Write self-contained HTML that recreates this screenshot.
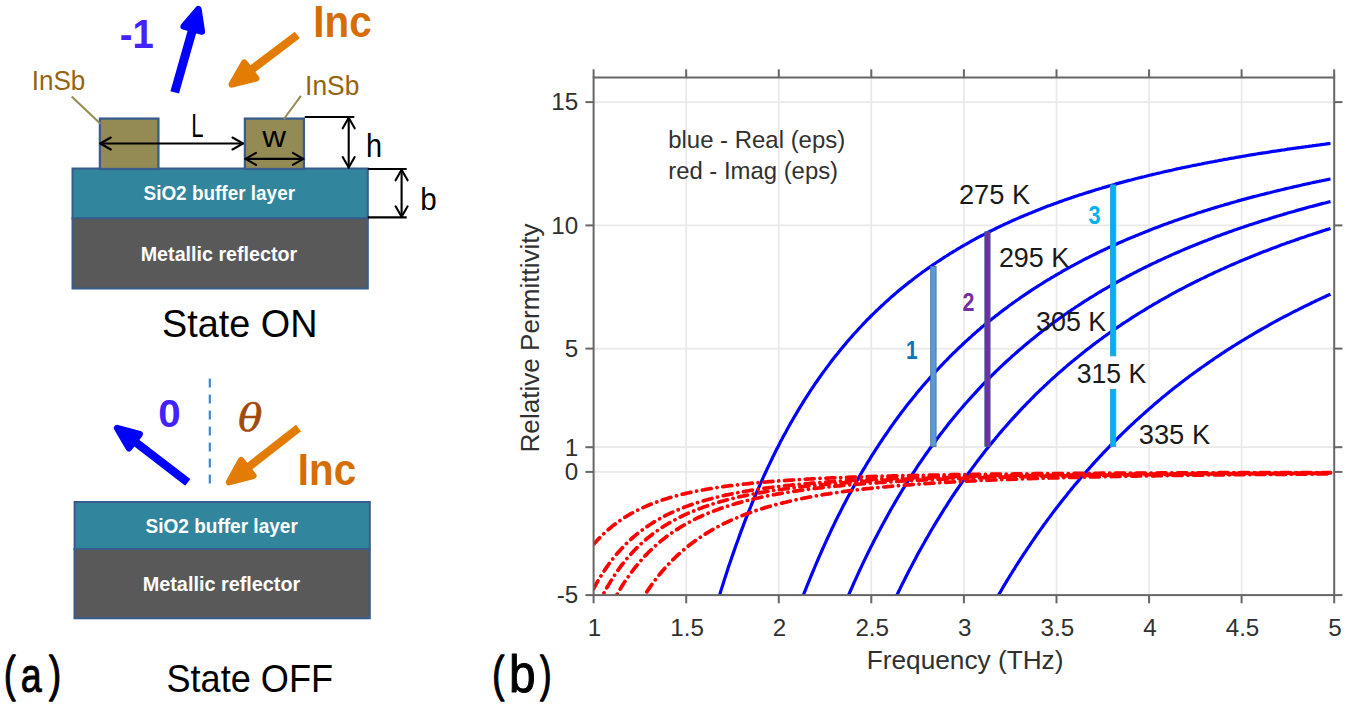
<!DOCTYPE html>
<html lang="en"><head><meta charset="utf-8"><title>Figure</title>
<style>html,body{margin:0;padding:0;background:#fff}svg{display:block}</style></head>
<body>
<svg width="1350" height="708" viewBox="0 0 1350 708">
<rect width="100%" height="100%" fill="#fff"/>
<rect x="72.5" y="168.5" width="295.3" height="50" fill="#31859C" stroke="#385D8A" stroke-width="2"/>
<rect x="72.5" y="218.3" width="295.3" height="70.2" fill="#595959" stroke="#385D8A" stroke-width="2"/>
<rect x="99.9" y="118.6" width="58.5" height="50.4" fill="#948A54" stroke="#385D8A" stroke-width="2.3"/>
<rect x="244.9" y="118.6" width="59" height="50.4" fill="#948A54" stroke="#385D8A" stroke-width="2.3"/>
<rect x="74.6" y="502.0" width="295.2" height="47.2" fill="#31859C" stroke="#385D8A" stroke-width="2"/>
<rect x="74.5" y="549" width="295.3" height="69.3" fill="#595959" stroke="#385D8A" stroke-width="2"/>
<line x1="71.7" y1="96.6" x2="100.4" y2="123.8" stroke="#948A54" stroke-width="2"/>
<line x1="300.9" y1="95.9" x2="283.9" y2="119" stroke="#948A54" stroke-width="2"/>
<g fill="none" stroke="#000" stroke-width="2.1" stroke-linecap="round" stroke-linejoin="round"><line x1="100.3" y1="143.5" x2="243.0" y2="143.5"/><polyline points="110.8,149.5 100.3,143.5 110.8,137.5"/><polyline points="232.5,149.5 243.0,143.5 232.5,137.5"/></g>
<g fill="none" stroke="#000" stroke-width="2.1" stroke-linecap="round" stroke-linejoin="round"><line x1="245.5" y1="158.9" x2="303.3" y2="158.9"/><polyline points="256.0,164.9 245.5,158.9 256.0,152.9"/><polyline points="292.8,164.9 303.3,158.9 292.8,152.9"/></g>
<g fill="none" stroke="#000" stroke-width="2.1" stroke-linecap="round" stroke-linejoin="round"><line x1="348.7" y1="117.8" x2="348.7" y2="167.6"/><polyline points="342.7,128.3 348.7,117.8 354.7,128.3"/><polyline points="342.7,157.1 348.7,167.6 354.7,157.1"/></g>
<g fill="none" stroke="#000" stroke-width="2.1" stroke-linecap="round" stroke-linejoin="round"><line x1="401.6" y1="169.8" x2="401.6" y2="216.8"/><polyline points="395.6,180.3 401.6,169.8 407.6,180.3"/><polyline points="395.6,206.3 401.6,216.8 407.6,206.3"/></g>
<g stroke="#000" stroke-width="2.1"><line x1="304.8" y1="117" x2="354.3" y2="117"/><line x1="367.8" y1="169" x2="406.7" y2="169"/><line x1="367.8" y1="217.4" x2="406.7" y2="217.4"/></g>
<line x1="174.7" y1="92.4" x2="193.3" y2="27.0" stroke="#0000FF" stroke-width="8.9"/><polygon points="198.4,9.2 201.8,31.5 183.7,26.3" fill="#0000FF" stroke="#0000FF" stroke-width="6.6" stroke-linejoin="round"/>
<line x1="297.3" y1="35.0" x2="248.6" y2="71.8" stroke="#E37C04" stroke-width="8.4"/><polygon points="231.8,84.4 244.3,62.7 256.1,78.4" fill="#E37C04" stroke="#E37C04" stroke-width="6.6" stroke-linejoin="round"/>
<line x1="187.8" y1="482.4" x2="132.7" y2="440.0" stroke="#0000FF" stroke-width="8.3"/><polygon points="117.2,428.1 139.6,434.2 128.9,448.2" fill="#0000FF" stroke="#0000FF" stroke-width="6.6" stroke-linejoin="round"/>
<line x1="298.5" y1="428.1" x2="245.7" y2="469.2" stroke="#E37C04" stroke-width="8.3"/><polygon points="229.1,482.1 241.2,460.2 253.3,475.7" fill="#E37C04" stroke="#E37C04" stroke-width="6.6" stroke-linejoin="round"/>
<line x1="209.8" y1="378.4" x2="209.8" y2="484" stroke="#3F8AD3" stroke-width="2.2" stroke-dasharray="9.2 6.8"/>
<g stroke="#E9E9E9" stroke-width="1.7"><line x1="686.2" y1="77.5" x2="686.2" y2="595.1"/><line x1="778.8" y1="77.5" x2="778.8" y2="595.1"/><line x1="871.3" y1="77.5" x2="871.3" y2="595.1"/><line x1="963.9" y1="77.5" x2="963.9" y2="595.1"/><line x1="1056.5" y1="77.5" x2="1056.5" y2="595.1"/><line x1="1149.1" y1="77.5" x2="1149.1" y2="595.1"/><line x1="1241.6" y1="77.5" x2="1241.6" y2="595.1"/><line x1="593.6" y1="471.9" x2="1334.2" y2="471.9"/><line x1="593.6" y1="447.2" x2="1334.2" y2="447.2"/><line x1="593.6" y1="348.6" x2="1334.2" y2="348.6"/><line x1="593.6" y1="225.4" x2="1334.2" y2="225.4"/><line x1="593.6" y1="102.1" x2="1334.2" y2="102.1"/></g>
<clipPath id="cp"><rect x="593.6" y="77.5" width="740.6" height="518.6"/></clipPath>
<g clip-path="url(#cp)" fill="none">
<g stroke="#0000FF" stroke-width="3.2" stroke-linejoin="round"><path d="M715.5,608.7 L717.3,602.5 L719.2,596.4 L721.0,590.4 L722.9,584.4 L724.7,578.6 L726.6,572.9 L728.4,567.3 L730.3,561.8 L732.1,556.4 L734.0,551.1 L735.8,545.8 L737.7,540.7 L739.5,535.6 L741.3,530.6 L743.2,525.8 L745.0,520.9 L746.9,516.2 L748.7,511.5 L750.6,507.0 L752.4,502.4 L754.3,498.0 L756.1,493.6 L758.0,489.3 L759.8,485.1 L761.7,480.9 L763.5,476.8 L765.4,472.8 L767.2,468.8 L769.1,464.9 L770.9,461.1 L772.7,457.3 L774.6,453.5 L776.4,449.8 L778.3,446.2 L780.1,442.6 L782.0,439.1 L783.8,435.6 L785.7,432.2 L787.5,428.8 L789.4,425.5 L791.2,422.3 L793.1,419.0 L794.9,415.8 L796.8,412.7 L798.6,409.6 L800.4,406.6 L802.3,403.6 L804.1,400.6 L806.0,397.7 L807.8,394.8 L809.7,392.0 L811.5,389.2 L813.4,386.4 L815.2,383.7 L817.1,381.0 L818.9,378.3 L820.8,375.7 L822.6,373.1 L824.5,370.6 L826.3,368.1 L828.2,365.6 L830.0,363.1 L831.8,360.7 L833.7,358.3 L835.5,356.0 L837.4,353.7 L839.2,351.4 L841.1,349.1 L842.9,346.9 L844.8,344.7 L846.6,342.5 L848.5,340.3 L850.3,338.2 L852.2,336.1 L854.0,334.0 L855.9,332.0 L857.7,330.0 L859.5,328.0 L861.4,326.0 L863.2,324.0 L865.1,322.1 L866.9,320.2 L868.8,318.3 L870.6,316.5 L872.5,314.6 L874.3,312.8 L876.2,311.0 L878.0,309.3 L879.9,307.5 L881.7,305.8 L883.6,304.1 L885.4,302.4 L887.3,300.7 L889.1,299.1 L890.9,297.4 L892.8,295.8 L894.6,294.2 L896.5,292.6 L898.3,291.1 L900.2,289.5 L902.0,288.0 L903.9,286.5 L905.7,285.0 L907.6,283.6 L909.4,282.1 L911.3,280.7 L913.1,279.2 L915.0,277.8 L916.8,276.4 L918.6,275.0 L920.5,273.7 L922.3,272.3 L924.2,271.0 L926.0,269.7 L927.9,268.4 L929.7,267.1 L931.6,265.8 L933.4,264.5 L935.3,263.3 L937.1,262.0 L939.0,260.8 L940.8,259.6 L942.7,258.4 L944.5,257.2 L946.4,256.0 L948.2,254.8 L950.0,253.7 L951.9,252.6 L953.7,251.4 L955.6,250.3 L957.4,249.2 L959.3,248.1 L961.1,247.0 L963.0,245.9 L964.8,244.9 L966.7,243.8 L968.5,242.8 L970.4,241.7 L972.2,240.7 L974.1,239.7 L975.9,238.7 L977.7,237.7 L979.6,236.7 L981.4,235.8 L983.3,234.8 L985.1,233.8 L987.0,232.9 L988.8,232.0 L990.7,231.0 L992.5,230.1 L994.4,229.2 L996.2,228.3 L998.1,227.4 L999.9,226.5 L1001.8,225.6 L1003.6,224.8 L1005.4,223.9 L1007.3,223.1 L1009.1,222.2 L1011.0,221.4 L1012.8,220.5 L1014.7,219.7 L1016.5,218.9 L1018.4,218.1 L1020.2,217.3 L1022.1,216.5 L1023.9,215.7 L1025.8,214.9 L1027.6,214.2 L1029.5,213.4 L1031.3,212.7 L1033.2,211.9 L1035.0,211.2 L1036.8,210.4 L1038.7,209.7 L1040.5,209.0 L1042.4,208.2 L1044.2,207.5 L1046.1,206.8 L1047.9,206.1 L1049.8,205.4 L1051.6,204.7 L1053.5,204.1 L1055.3,203.4 L1057.2,202.7 L1059.0,202.0 L1060.9,201.4 L1062.7,200.7 L1064.5,200.1 L1066.4,199.4 L1068.2,198.8 L1070.1,198.2 L1071.9,197.5 L1073.8,196.9 L1075.6,196.3 L1077.5,195.7 L1079.3,195.1 L1081.2,194.5 L1083.0,193.9 L1084.9,193.3 L1086.7,192.7 L1088.6,192.1 L1090.4,191.6 L1092.3,191.0 L1094.1,190.4 L1095.9,189.8 L1097.8,189.3 L1099.6,188.7 L1101.5,188.2 L1103.3,187.6 L1105.2,187.1 L1107.0,186.6 L1108.9,186.0 L1110.7,185.5 L1112.6,185.0 L1114.4,184.5 L1116.3,183.9 L1118.1,183.4 L1120.0,182.9 L1121.8,182.4 L1123.6,181.9 L1125.5,181.4 L1127.3,180.9 L1129.2,180.4 L1131.0,180.0 L1132.9,179.5 L1134.7,179.0 L1136.6,178.5 L1138.4,178.0 L1140.3,177.6 L1142.1,177.1 L1144.0,176.7 L1145.8,176.2 L1147.7,175.7 L1149.5,175.3 L1151.4,174.9 L1153.2,174.4 L1155.0,174.0 L1156.9,173.5 L1158.7,173.1 L1160.6,172.7 L1162.4,172.2 L1164.3,171.8 L1166.1,171.4 L1168.0,171.0 L1169.8,170.6 L1171.7,170.2 L1173.5,169.7 L1175.4,169.3 L1177.2,168.9 L1179.1,168.5 L1180.9,168.1 L1182.7,167.7 L1184.6,167.4 L1186.4,167.0 L1188.3,166.6 L1190.1,166.2 L1192.0,165.8 L1193.8,165.4 L1195.7,165.1 L1197.5,164.7 L1199.4,164.3 L1201.2,164.0 L1203.1,163.6 L1204.9,163.2 L1206.8,162.9 L1208.6,162.5 L1210.5,162.2 L1212.3,161.8 L1214.1,161.5 L1216.0,161.1 L1217.8,160.8 L1219.7,160.4 L1221.5,160.1 L1223.4,159.7 L1225.2,159.4 L1227.1,159.1 L1228.9,158.7 L1230.8,158.4 L1232.6,158.1 L1234.5,157.8 L1236.3,157.4 L1238.2,157.1 L1240.0,156.8 L1241.8,156.5 L1243.7,156.2 L1245.5,155.9 L1247.4,155.5 L1249.2,155.2 L1251.1,154.9 L1252.9,154.6 L1254.8,154.3 L1256.6,154.0 L1258.5,153.7 L1260.3,153.4 L1262.2,153.1 L1264.0,152.8 L1265.9,152.6 L1267.7,152.3 L1269.6,152.0 L1271.4,151.7 L1273.2,151.4 L1275.1,151.1 L1276.9,150.9 L1278.8,150.6 L1280.6,150.3 L1282.5,150.0 L1284.3,149.8 L1286.2,149.5 L1288.0,149.2 L1289.9,148.9 L1291.7,148.7 L1293.6,148.4 L1295.4,148.2 L1297.3,147.9 L1299.1,147.6 L1300.9,147.4 L1302.8,147.1 L1304.6,146.9 L1306.5,146.6 L1308.3,146.4 L1310.2,146.1 L1312.0,145.9 L1313.9,145.6 L1315.7,145.4 L1317.6,145.1 L1319.4,144.9 L1321.3,144.6 L1323.1,144.4 L1325.0,144.2 L1326.8,143.9 L1328.7,143.7 L1330.5,143.5"/><path d="M798.6,607.7 L800.4,602.8 L802.3,598.0 L804.1,593.2 L806.0,588.5 L807.8,583.9 L809.7,579.3 L811.5,574.8 L813.4,570.3 L815.2,566.0 L817.1,561.6 L818.9,557.3 L820.8,553.1 L822.6,549.0 L824.5,544.9 L826.3,540.8 L828.2,536.8 L830.0,532.9 L831.8,529.0 L833.7,525.1 L835.5,521.3 L837.4,517.6 L839.2,513.9 L841.1,510.3 L842.9,506.6 L844.8,503.1 L846.6,499.6 L848.5,496.1 L850.3,492.7 L852.2,489.3 L854.0,486.0 L855.9,482.7 L857.7,479.4 L859.5,476.2 L861.4,473.0 L863.2,469.9 L865.1,466.8 L866.9,463.7 L868.8,460.7 L870.6,457.7 L872.5,454.7 L874.3,451.8 L876.2,448.9 L878.0,446.1 L879.9,443.2 L881.7,440.5 L883.6,437.7 L885.4,435.0 L887.3,432.3 L889.1,429.6 L890.9,427.0 L892.8,424.4 L894.6,421.8 L896.5,419.3 L898.3,416.8 L900.2,414.3 L902.0,411.8 L903.9,409.4 L905.7,407.0 L907.6,404.6 L909.4,402.3 L911.3,400.0 L913.1,397.7 L915.0,395.4 L916.8,393.1 L918.6,390.9 L920.5,388.7 L922.3,386.5 L924.2,384.4 L926.0,382.3 L927.9,380.2 L929.7,378.1 L931.6,376.0 L933.4,374.0 L935.3,372.0 L937.1,370.0 L939.0,368.0 L940.8,366.0 L942.7,364.1 L944.5,362.2 L946.4,360.3 L948.2,358.4 L950.0,356.5 L951.9,354.7 L953.7,352.9 L955.6,351.1 L957.4,349.3 L959.3,347.5 L961.1,345.8 L963.0,344.0 L964.8,342.3 L966.7,340.6 L968.5,339.0 L970.4,337.3 L972.2,335.6 L974.1,334.0 L975.9,332.4 L977.7,330.8 L979.6,329.2 L981.4,327.6 L983.3,326.1 L985.1,324.6 L987.0,323.0 L988.8,321.5 L990.7,320.0 L992.5,318.5 L994.4,317.1 L996.2,315.6 L998.1,314.2 L999.9,312.8 L1001.8,311.3 L1003.6,309.9 L1005.4,308.6 L1007.3,307.2 L1009.1,305.8 L1011.0,304.5 L1012.8,303.1 L1014.7,301.8 L1016.5,300.5 L1018.4,299.2 L1020.2,297.9 L1022.1,296.6 L1023.9,295.4 L1025.8,294.1 L1027.6,292.9 L1029.5,291.6 L1031.3,290.4 L1033.2,289.2 L1035.0,288.0 L1036.8,286.8 L1038.7,285.6 L1040.5,284.5 L1042.4,283.3 L1044.2,282.2 L1046.1,281.0 L1047.9,279.9 L1049.8,278.8 L1051.6,277.7 L1053.5,276.6 L1055.3,275.5 L1057.2,274.4 L1059.0,273.3 L1060.9,272.3 L1062.7,271.2 L1064.5,270.2 L1066.4,269.1 L1068.2,268.1 L1070.1,267.1 L1071.9,266.1 L1073.8,265.1 L1075.6,264.1 L1077.5,263.1 L1079.3,262.1 L1081.2,261.2 L1083.0,260.2 L1084.9,259.2 L1086.7,258.3 L1088.6,257.4 L1090.4,256.4 L1092.3,255.5 L1094.1,254.6 L1095.9,253.7 L1097.8,252.8 L1099.6,251.9 L1101.5,251.0 L1103.3,250.1 L1105.2,249.2 L1107.0,248.4 L1108.9,247.5 L1110.7,246.7 L1112.6,245.8 L1114.4,245.0 L1116.3,244.2 L1118.1,243.3 L1120.0,242.5 L1121.8,241.7 L1123.6,240.9 L1125.5,240.1 L1127.3,239.3 L1129.2,238.5 L1131.0,237.7 L1132.9,237.0 L1134.7,236.2 L1136.6,235.4 L1138.4,234.7 L1140.3,233.9 L1142.1,233.2 L1144.0,232.4 L1145.8,231.7 L1147.7,231.0 L1149.5,230.2 L1151.4,229.5 L1153.2,228.8 L1155.0,228.1 L1156.9,227.4 L1158.7,226.7 L1160.6,226.0 L1162.4,225.3 L1164.3,224.6 L1166.1,224.0 L1168.0,223.3 L1169.8,222.6 L1171.7,221.9 L1173.5,221.3 L1175.4,220.6 L1177.2,220.0 L1179.1,219.3 L1180.9,218.7 L1182.7,218.1 L1184.6,217.4 L1186.4,216.8 L1188.3,216.2 L1190.1,215.6 L1192.0,215.0 L1193.8,214.4 L1195.7,213.7 L1197.5,213.1 L1199.4,212.5 L1201.2,212.0 L1203.1,211.4 L1204.9,210.8 L1206.8,210.2 L1208.6,209.6 L1210.5,209.1 L1212.3,208.5 L1214.1,207.9 L1216.0,207.4 L1217.8,206.8 L1219.7,206.3 L1221.5,205.7 L1223.4,205.2 L1225.2,204.6 L1227.1,204.1 L1228.9,203.6 L1230.8,203.0 L1232.6,202.5 L1234.5,202.0 L1236.3,201.5 L1238.2,200.9 L1240.0,200.4 L1241.8,199.9 L1243.7,199.4 L1245.5,198.9 L1247.4,198.4 L1249.2,197.9 L1251.1,197.4 L1252.9,196.9 L1254.8,196.4 L1256.6,196.0 L1258.5,195.5 L1260.3,195.0 L1262.2,194.5 L1264.0,194.1 L1265.9,193.6 L1267.7,193.1 L1269.6,192.7 L1271.4,192.2 L1273.2,191.8 L1275.1,191.3 L1276.9,190.9 L1278.8,190.4 L1280.6,190.0 L1282.5,189.5 L1284.3,189.1 L1286.2,188.6 L1288.0,188.2 L1289.9,187.8 L1291.7,187.4 L1293.6,186.9 L1295.4,186.5 L1297.3,186.1 L1299.1,185.7 L1300.9,185.3 L1302.8,184.8 L1304.6,184.4 L1306.5,184.0 L1308.3,183.6 L1310.2,183.2 L1312.0,182.8 L1313.9,182.4 L1315.7,182.0 L1317.6,181.6 L1319.4,181.2 L1321.3,180.9 L1323.1,180.5 L1325.0,180.1 L1326.8,179.7 L1328.7,179.3 L1330.5,179.0"/><path d="M842.9,608.4 L844.8,604.0 L846.6,599.6 L848.5,595.3 L850.3,591.1 L852.2,586.9 L854.0,582.7 L855.9,578.6 L857.7,574.6 L859.5,570.6 L861.4,566.6 L863.2,562.7 L865.1,558.9 L866.9,555.1 L868.8,551.3 L870.6,547.6 L872.5,543.9 L874.3,540.3 L876.2,536.7 L878.0,533.2 L879.9,529.7 L881.7,526.2 L883.6,522.8 L885.4,519.4 L887.3,516.1 L889.1,512.8 L890.9,509.5 L892.8,506.3 L894.6,503.1 L896.5,499.9 L898.3,496.8 L900.2,493.7 L902.0,490.7 L903.9,487.7 L905.7,484.7 L907.6,481.7 L909.4,478.8 L911.3,475.9 L913.1,473.1 L915.0,470.3 L916.8,467.5 L918.6,464.7 L920.5,462.0 L922.3,459.3 L924.2,456.6 L926.0,454.0 L927.9,451.4 L929.7,448.8 L931.6,446.2 L933.4,443.7 L935.3,441.2 L937.1,438.7 L939.0,436.2 L940.8,433.8 L942.7,431.4 L944.5,429.0 L946.4,426.7 L948.2,424.3 L950.0,422.0 L951.9,419.7 L953.7,417.5 L955.6,415.2 L957.4,413.0 L959.3,410.8 L961.1,408.7 L963.0,406.5 L964.8,404.4 L966.7,402.3 L968.5,400.2 L970.4,398.1 L972.2,396.1 L974.1,394.1 L975.9,392.1 L977.7,390.1 L979.6,388.1 L981.4,386.2 L983.3,384.2 L985.1,382.3 L987.0,380.4 L988.8,378.5 L990.7,376.7 L992.5,374.9 L994.4,373.0 L996.2,371.2 L998.1,369.4 L999.9,367.7 L1001.8,365.9 L1003.6,364.2 L1005.4,362.5 L1007.3,360.7 L1009.1,359.1 L1011.0,357.4 L1012.8,355.7 L1014.7,354.1 L1016.5,352.5 L1018.4,350.8 L1020.2,349.2 L1022.1,347.7 L1023.9,346.1 L1025.8,344.5 L1027.6,343.0 L1029.5,341.5 L1031.3,339.9 L1033.2,338.4 L1035.0,336.9 L1036.8,335.5 L1038.7,334.0 L1040.5,332.6 L1042.4,331.1 L1044.2,329.7 L1046.1,328.3 L1047.9,326.9 L1049.8,325.5 L1051.6,324.1 L1053.5,322.7 L1055.3,321.4 L1057.2,320.1 L1059.0,318.7 L1060.9,317.4 L1062.7,316.1 L1064.5,314.8 L1066.4,313.5 L1068.2,312.2 L1070.1,311.0 L1071.9,309.7 L1073.8,308.5 L1075.6,307.2 L1077.5,306.0 L1079.3,304.8 L1081.2,303.6 L1083.0,302.4 L1084.9,301.2 L1086.7,300.1 L1088.6,298.9 L1090.4,297.7 L1092.3,296.6 L1094.1,295.5 L1095.9,294.3 L1097.8,293.2 L1099.6,292.1 L1101.5,291.0 L1103.3,289.9 L1105.2,288.8 L1107.0,287.8 L1108.9,286.7 L1110.7,285.6 L1112.6,284.6 L1114.4,283.5 L1116.3,282.5 L1118.1,281.5 L1120.0,280.5 L1121.8,279.5 L1123.6,278.5 L1125.5,277.5 L1127.3,276.5 L1129.2,275.5 L1131.0,274.5 L1132.9,273.6 L1134.7,272.6 L1136.6,271.7 L1138.4,270.7 L1140.3,269.8 L1142.1,268.9 L1144.0,267.9 L1145.8,267.0 L1147.7,266.1 L1149.5,265.2 L1151.4,264.3 L1153.2,263.4 L1155.0,262.6 L1156.9,261.7 L1158.7,260.8 L1160.6,260.0 L1162.4,259.1 L1164.3,258.3 L1166.1,257.4 L1168.0,256.6 L1169.8,255.8 L1171.7,254.9 L1173.5,254.1 L1175.4,253.3 L1177.2,252.5 L1179.1,251.7 L1180.9,250.9 L1182.7,250.1 L1184.6,249.3 L1186.4,248.6 L1188.3,247.8 L1190.1,247.0 L1192.0,246.3 L1193.8,245.5 L1195.7,244.7 L1197.5,244.0 L1199.4,243.3 L1201.2,242.5 L1203.1,241.8 L1204.9,241.1 L1206.8,240.4 L1208.6,239.6 L1210.5,238.9 L1212.3,238.2 L1214.1,237.5 L1216.0,236.8 L1217.8,236.1 L1219.7,235.5 L1221.5,234.8 L1223.4,234.1 L1225.2,233.4 L1227.1,232.8 L1228.9,232.1 L1230.8,231.4 L1232.6,230.8 L1234.5,230.1 L1236.3,229.5 L1238.2,228.8 L1240.0,228.2 L1241.8,227.6 L1243.7,227.0 L1245.5,226.3 L1247.4,225.7 L1249.2,225.1 L1251.1,224.5 L1252.9,223.9 L1254.8,223.3 L1256.6,222.7 L1258.5,222.1 L1260.3,221.5 L1262.2,220.9 L1264.0,220.3 L1265.9,219.7 L1267.7,219.2 L1269.6,218.6 L1271.4,218.0 L1273.2,217.4 L1275.1,216.9 L1276.9,216.3 L1278.8,215.8 L1280.6,215.2 L1282.5,214.7 L1284.3,214.1 L1286.2,213.6 L1288.0,213.0 L1289.9,212.5 L1291.7,212.0 L1293.6,211.5 L1295.4,210.9 L1297.3,210.4 L1299.1,209.9 L1300.9,209.4 L1302.8,208.9 L1304.6,208.4 L1306.5,207.8 L1308.3,207.3 L1310.2,206.8 L1312.0,206.4 L1313.9,205.9 L1315.7,205.4 L1317.6,204.9 L1319.4,204.4 L1321.3,203.9 L1323.1,203.4 L1325.0,203.0 L1326.8,202.5 L1328.7,202.0 L1330.5,201.6"/><path d="M890.9,607.8 L892.8,603.8 L894.6,599.9 L896.5,596.0 L898.3,592.2 L900.2,588.4 L902.0,584.6 L903.9,580.9 L905.7,577.2 L907.6,573.6 L909.4,570.0 L911.3,566.5 L913.1,563.0 L915.0,559.5 L916.8,556.0 L918.6,552.6 L920.5,549.3 L922.3,546.0 L924.2,542.7 L926.0,539.4 L927.9,536.2 L929.7,533.0 L931.6,529.8 L933.4,526.7 L935.3,523.6 L937.1,520.6 L939.0,517.6 L940.8,514.6 L942.7,511.6 L944.5,508.7 L946.4,505.8 L948.2,502.9 L950.0,500.1 L951.9,497.2 L953.7,494.5 L955.6,491.7 L957.4,489.0 L959.3,486.3 L961.1,483.6 L963.0,480.9 L964.8,478.3 L966.7,475.7 L968.5,473.2 L970.4,470.6 L972.2,468.1 L974.1,465.6 L975.9,463.1 L977.7,460.7 L979.6,458.3 L981.4,455.9 L983.3,453.5 L985.1,451.1 L987.0,448.8 L988.8,446.5 L990.7,444.2 L992.5,441.9 L994.4,439.7 L996.2,437.5 L998.1,435.3 L999.9,433.1 L1001.8,430.9 L1003.6,428.8 L1005.4,426.7 L1007.3,424.6 L1009.1,422.5 L1011.0,420.4 L1012.8,418.4 L1014.7,416.4 L1016.5,414.4 L1018.4,412.4 L1020.2,410.4 L1022.1,408.4 L1023.9,406.5 L1025.8,404.6 L1027.6,402.7 L1029.5,400.8 L1031.3,398.9 L1033.2,397.1 L1035.0,395.2 L1036.8,393.4 L1038.7,391.6 L1040.5,389.8 L1042.4,388.1 L1044.2,386.3 L1046.1,384.6 L1047.9,382.8 L1049.8,381.1 L1051.6,379.4 L1053.5,377.8 L1055.3,376.1 L1057.2,374.4 L1059.0,372.8 L1060.9,371.2 L1062.7,369.6 L1064.5,368.0 L1066.4,366.4 L1068.2,364.8 L1070.1,363.3 L1071.9,361.7 L1073.8,360.2 L1075.6,358.7 L1077.5,357.2 L1079.3,355.7 L1081.2,354.2 L1083.0,352.7 L1084.9,351.3 L1086.7,349.8 L1088.6,348.4 L1090.4,347.0 L1092.3,345.5 L1094.1,344.1 L1095.9,342.8 L1097.8,341.4 L1099.6,340.0 L1101.5,338.7 L1103.3,337.3 L1105.2,336.0 L1107.0,334.7 L1108.9,333.3 L1110.7,332.0 L1112.6,330.7 L1114.4,329.5 L1116.3,328.2 L1118.1,326.9 L1120.0,325.7 L1121.8,324.4 L1123.6,323.2 L1125.5,322.0 L1127.3,320.8 L1129.2,319.6 L1131.0,318.4 L1132.9,317.2 L1134.7,316.0 L1136.6,314.8 L1138.4,313.7 L1140.3,312.5 L1142.1,311.4 L1144.0,310.3 L1145.8,309.1 L1147.7,308.0 L1149.5,306.9 L1151.4,305.8 L1153.2,304.7 L1155.0,303.6 L1156.9,302.6 L1158.7,301.5 L1160.6,300.4 L1162.4,299.4 L1164.3,298.3 L1166.1,297.3 L1168.0,296.3 L1169.8,295.2 L1171.7,294.2 L1173.5,293.2 L1175.4,292.2 L1177.2,291.2 L1179.1,290.2 L1180.9,289.3 L1182.7,288.3 L1184.6,287.3 L1186.4,286.4 L1188.3,285.4 L1190.1,284.5 L1192.0,283.5 L1193.8,282.6 L1195.7,281.7 L1197.5,280.8 L1199.4,279.9 L1201.2,278.9 L1203.1,278.1 L1204.9,277.2 L1206.8,276.3 L1208.6,275.4 L1210.5,274.5 L1212.3,273.7 L1214.1,272.8 L1216.0,271.9 L1217.8,271.1 L1219.7,270.2 L1221.5,269.4 L1223.4,268.6 L1225.2,267.7 L1227.1,266.9 L1228.9,266.1 L1230.8,265.3 L1232.6,264.5 L1234.5,263.7 L1236.3,262.9 L1238.2,262.1 L1240.0,261.3 L1241.8,260.5 L1243.7,259.8 L1245.5,259.0 L1247.4,258.2 L1249.2,257.5 L1251.1,256.7 L1252.9,256.0 L1254.8,255.2 L1256.6,254.5 L1258.5,253.8 L1260.3,253.0 L1262.2,252.3 L1264.0,251.6 L1265.9,250.9 L1267.7,250.2 L1269.6,249.5 L1271.4,248.7 L1273.2,248.1 L1275.1,247.4 L1276.9,246.7 L1278.8,246.0 L1280.6,245.3 L1282.5,244.6 L1284.3,244.0 L1286.2,243.3 L1288.0,242.6 L1289.9,242.0 L1291.7,241.3 L1293.6,240.7 L1295.4,240.0 L1297.3,239.4 L1299.1,238.7 L1300.9,238.1 L1302.8,237.5 L1304.6,236.9 L1306.5,236.2 L1308.3,235.6 L1310.2,235.0 L1312.0,234.4 L1313.9,233.8 L1315.7,233.2 L1317.6,232.6 L1319.4,232.0 L1321.3,231.4 L1323.1,230.8 L1325.0,230.2 L1326.8,229.6 L1328.7,229.1 L1330.5,228.5"/><path d="M990.7,608.9 L992.5,605.6 L994.4,602.3 L996.2,599.1 L998.1,595.9 L999.9,592.7 L1001.8,589.5 L1003.6,586.4 L1005.4,583.3 L1007.3,580.2 L1009.1,577.2 L1011.0,574.2 L1012.8,571.2 L1014.7,568.3 L1016.5,565.3 L1018.4,562.4 L1020.2,559.6 L1022.1,556.7 L1023.9,553.9 L1025.8,551.1 L1027.6,548.3 L1029.5,545.6 L1031.3,542.8 L1033.2,540.1 L1035.0,537.5 L1036.8,534.8 L1038.7,532.2 L1040.5,529.6 L1042.4,527.0 L1044.2,524.4 L1046.1,521.9 L1047.9,519.4 L1049.8,516.9 L1051.6,514.4 L1053.5,511.9 L1055.3,509.5 L1057.2,507.1 L1059.0,504.7 L1060.9,502.3 L1062.7,500.0 L1064.5,497.7 L1066.4,495.4 L1068.2,493.1 L1070.1,490.8 L1071.9,488.5 L1073.8,486.3 L1075.6,484.1 L1077.5,481.9 L1079.3,479.7 L1081.2,477.5 L1083.0,475.4 L1084.9,473.3 L1086.7,471.2 L1088.6,469.1 L1090.4,467.0 L1092.3,464.9 L1094.1,462.9 L1095.9,460.9 L1097.8,458.9 L1099.6,456.9 L1101.5,454.9 L1103.3,452.9 L1105.2,451.0 L1107.0,449.1 L1108.9,447.1 L1110.7,445.2 L1112.6,443.4 L1114.4,441.5 L1116.3,439.6 L1118.1,437.8 L1120.0,436.0 L1121.8,434.2 L1123.6,432.4 L1125.5,430.6 L1127.3,428.8 L1129.2,427.0 L1131.0,425.3 L1132.9,423.6 L1134.7,421.8 L1136.6,420.1 L1138.4,418.5 L1140.3,416.8 L1142.1,415.1 L1144.0,413.5 L1145.8,411.8 L1147.7,410.2 L1149.5,408.6 L1151.4,407.0 L1153.2,405.4 L1155.0,403.8 L1156.9,402.2 L1158.7,400.7 L1160.6,399.1 L1162.4,397.6 L1164.3,396.1 L1166.1,394.5 L1168.0,393.0 L1169.8,391.6 L1171.7,390.1 L1173.5,388.6 L1175.4,387.1 L1177.2,385.7 L1179.1,384.3 L1180.9,382.8 L1182.7,381.4 L1184.6,380.0 L1186.4,378.6 L1188.3,377.2 L1190.1,375.8 L1192.0,374.5 L1193.8,373.1 L1195.7,371.8 L1197.5,370.4 L1199.4,369.1 L1201.2,367.8 L1203.1,366.5 L1204.9,365.2 L1206.8,363.9 L1208.6,362.6 L1210.5,361.3 L1212.3,360.1 L1214.1,358.8 L1216.0,357.5 L1217.8,356.3 L1219.7,355.1 L1221.5,353.9 L1223.4,352.6 L1225.2,351.4 L1227.1,350.2 L1228.9,349.0 L1230.8,347.9 L1232.6,346.7 L1234.5,345.5 L1236.3,344.4 L1238.2,343.2 L1240.0,342.1 L1241.8,340.9 L1243.7,339.8 L1245.5,338.7 L1247.4,337.6 L1249.2,336.5 L1251.1,335.4 L1252.9,334.3 L1254.8,333.2 L1256.6,332.1 L1258.5,331.0 L1260.3,330.0 L1262.2,328.9 L1264.0,327.9 L1265.9,326.8 L1267.7,325.8 L1269.6,324.7 L1271.4,323.7 L1273.2,322.7 L1275.1,321.7 L1276.9,320.7 L1278.8,319.7 L1280.6,318.7 L1282.5,317.7 L1284.3,316.7 L1286.2,315.8 L1288.0,314.8 L1289.9,313.8 L1291.7,312.9 L1293.6,311.9 L1295.4,311.0 L1297.3,310.1 L1299.1,309.1 L1300.9,308.2 L1302.8,307.3 L1304.6,306.4 L1306.5,305.5 L1308.3,304.6 L1310.2,303.7 L1312.0,302.8 L1313.9,301.9 L1315.7,301.0 L1317.6,300.1 L1319.4,299.3 L1321.3,298.4 L1323.1,297.5 L1325.0,296.7 L1326.8,295.8 L1328.7,295.0 L1330.5,294.2"/></g>
<g stroke="#FF0000" stroke-width="3.7" stroke-dasharray="9 5.8 0.1 5.8" stroke-linecap="round" stroke-linejoin="round"><path d="M593.6,544.4 L595.4,542.3 L597.3,540.3 L599.1,538.3 L601.0,536.4 L602.8,534.6 L604.7,532.8 L606.5,531.1 L608.4,529.5 L610.2,528.0 L612.1,526.4 L613.9,525.0 L615.8,523.6 L617.6,522.2 L619.5,520.9 L621.3,519.6 L623.1,518.4 L625.0,517.2 L626.8,516.1 L628.7,515.0 L630.5,513.9 L632.4,512.9 L634.2,511.9 L636.1,510.9 L637.9,510.0 L639.8,509.1 L641.6,508.2 L643.5,507.4 L645.3,506.6 L647.2,505.8 L649.0,505.0 L650.9,504.2 L652.7,503.5 L654.5,502.8 L656.4,502.1 L658.2,501.4 L660.1,500.8 L661.9,500.2 L663.8,499.6 L665.6,499.0 L667.5,498.4 L669.3,497.8 L671.2,497.3 L673.0,496.8 L674.9,496.3 L676.7,495.8 L678.6,495.3 L680.4,494.8 L682.2,494.3 L684.1,493.9 L685.9,493.4 L687.8,493.0 L689.6,492.6 L691.5,492.2 L693.3,491.8 L695.2,491.4 L697.0,491.1 L698.9,490.7 L700.7,490.3 L702.6,490.0 L704.4,489.7 L706.3,489.3 L708.1,489.0 L710.0,488.7 L711.8,488.4 L713.6,488.1 L715.5,487.8 L717.3,487.5 L719.2,487.2 L721.0,487.0 L722.9,486.7 L724.7,486.4 L726.6,486.2 L728.4,485.9 L730.3,485.7 L732.1,485.5 L734.0,485.2 L735.8,485.0 L737.7,484.8 L739.5,484.6 L741.3,484.4 L743.2,484.2 L745.0,484.0 L746.9,483.8 L748.7,483.6 L750.6,483.4 L752.4,483.2 L754.3,483.0 L756.1,482.8 L758.0,482.7 L759.8,482.5 L761.7,482.3 L763.5,482.2 L765.4,482.0 L767.2,481.9 L769.1,481.7 L770.9,481.6 L772.7,481.4 L774.6,481.3 L776.4,481.1 L778.3,481.0 L780.1,480.8 L782.0,480.7 L783.8,480.6 L785.7,480.5 L787.5,480.3 L789.4,480.2 L791.2,480.1 L793.1,480.0 L794.9,479.9 L796.8,479.7 L798.6,479.6 L800.4,479.5 L802.3,479.4 L804.1,479.3 L806.0,479.2 L807.8,479.1 L809.7,479.0 L811.5,478.9 L813.4,478.8 L815.2,478.7 L817.1,478.6 L818.9,478.5 L820.8,478.4 L822.6,478.4 L824.5,478.3 L826.3,478.2 L828.2,478.1 L830.0,478.0 L831.8,477.9 L833.7,477.9 L835.5,477.8 L837.4,477.7 L839.2,477.6 L841.1,477.6 L842.9,477.5 L844.8,477.4 L846.6,477.3 L848.5,477.3 L850.3,477.2 L852.2,477.1 L854.0,477.1 L855.9,477.0 L857.7,477.0 L859.5,476.9 L861.4,476.8 L863.2,476.8 L865.1,476.7 L866.9,476.7 L868.8,476.6 L870.6,476.5 L872.5,476.5 L874.3,476.4 L876.2,476.4 L878.0,476.3 L879.9,476.3 L881.7,476.2 L883.6,476.2 L885.4,476.1 L887.3,476.1 L889.1,476.0 L890.9,476.0 L892.8,475.9 L894.6,475.9 L896.5,475.8 L898.3,475.8 L900.2,475.7 L902.0,475.7 L903.9,475.7 L905.7,475.6 L907.6,475.6 L909.4,475.5 L911.3,475.5 L913.1,475.5 L915.0,475.4 L916.8,475.4 L918.6,475.3 L920.5,475.3 L922.3,475.3 L924.2,475.2 L926.0,475.2 L927.9,475.2 L929.7,475.1 L931.6,475.1 L933.4,475.1 L935.3,475.0 L937.1,475.0 L939.0,475.0 L940.8,474.9 L942.7,474.9 L944.5,474.9 L946.4,474.8 L948.2,474.8 L950.0,474.8 L951.9,474.7 L953.7,474.7 L955.6,474.7 L957.4,474.7 L959.3,474.6 L961.1,474.6 L963.0,474.6 L964.8,474.5 L966.7,474.5 L968.5,474.5 L970.4,474.5 L972.2,474.4 L974.1,474.4 L975.9,474.4 L977.7,474.4 L979.6,474.3 L981.4,474.3 L983.3,474.3 L985.1,474.3 L987.0,474.2 L988.8,474.2 L990.7,474.2 L992.5,474.2 L994.4,474.2 L996.2,474.1 L998.1,474.1 L999.9,474.1 L1001.8,474.1 L1003.6,474.1 L1005.4,474.0 L1007.3,474.0 L1009.1,474.0 L1011.0,474.0 L1012.8,474.0 L1014.7,473.9 L1016.5,473.9 L1018.4,473.9 L1020.2,473.9 L1022.1,473.9 L1023.9,473.8 L1025.8,473.8 L1027.6,473.8 L1029.5,473.8 L1031.3,473.8 L1033.2,473.8 L1035.0,473.7 L1036.8,473.7 L1038.7,473.7 L1040.5,473.7 L1042.4,473.7 L1044.2,473.7 L1046.1,473.6 L1047.9,473.6 L1049.8,473.6 L1051.6,473.6 L1053.5,473.6 L1055.3,473.6 L1057.2,473.6 L1059.0,473.5 L1060.9,473.5 L1062.7,473.5 L1064.5,473.5 L1066.4,473.5 L1068.2,473.5 L1070.1,473.5 L1071.9,473.4 L1073.8,473.4 L1075.6,473.4 L1077.5,473.4 L1079.3,473.4 L1081.2,473.4 L1083.0,473.4 L1084.9,473.4 L1086.7,473.3 L1088.6,473.3 L1090.4,473.3 L1092.3,473.3 L1094.1,473.3 L1095.9,473.3 L1097.8,473.3 L1099.6,473.3 L1101.5,473.2 L1103.3,473.2 L1105.2,473.2 L1107.0,473.2 L1108.9,473.2 L1110.7,473.2 L1112.6,473.2 L1114.4,473.2 L1116.3,473.2 L1118.1,473.2 L1120.0,473.1 L1121.8,473.1 L1123.6,473.1 L1125.5,473.1 L1127.3,473.1 L1129.2,473.1 L1131.0,473.1 L1132.9,473.1 L1134.7,473.1 L1136.6,473.1 L1138.4,473.0 L1140.3,473.0 L1142.1,473.0 L1144.0,473.0 L1145.8,473.0 L1147.7,473.0 L1149.5,473.0 L1151.4,473.0 L1153.2,473.0 L1155.0,473.0 L1156.9,473.0 L1158.7,473.0 L1160.6,472.9 L1162.4,472.9 L1164.3,472.9 L1166.1,472.9 L1168.0,472.9 L1169.8,472.9 L1171.7,472.9 L1173.5,472.9 L1175.4,472.9 L1177.2,472.9 L1179.1,472.9 L1180.9,472.9 L1182.7,472.9 L1184.6,472.8 L1186.4,472.8 L1188.3,472.8 L1190.1,472.8 L1192.0,472.8 L1193.8,472.8 L1195.7,472.8 L1197.5,472.8 L1199.4,472.8 L1201.2,472.8 L1203.1,472.8 L1204.9,472.8 L1206.8,472.8 L1208.6,472.8 L1210.5,472.8 L1212.3,472.8 L1214.1,472.7 L1216.0,472.7 L1217.8,472.7 L1219.7,472.7 L1221.5,472.7 L1223.4,472.7 L1225.2,472.7 L1227.1,472.7 L1228.9,472.7 L1230.8,472.7 L1232.6,472.7 L1234.5,472.7 L1236.3,472.7 L1238.2,472.7 L1240.0,472.7 L1241.8,472.7 L1243.7,472.7 L1245.5,472.6 L1247.4,472.6 L1249.2,472.6 L1251.1,472.6 L1252.9,472.6 L1254.8,472.6 L1256.6,472.6 L1258.5,472.6 L1260.3,472.6 L1262.2,472.6 L1264.0,472.6 L1265.9,472.6 L1267.7,472.6 L1269.6,472.6 L1271.4,472.6 L1273.2,472.6 L1275.1,472.6 L1276.9,472.6 L1278.8,472.6 L1280.6,472.6 L1282.5,472.6 L1284.3,472.5 L1286.2,472.5 L1288.0,472.5 L1289.9,472.5 L1291.7,472.5 L1293.6,472.5 L1295.4,472.5 L1297.3,472.5 L1299.1,472.5 L1300.9,472.5 L1302.8,472.5 L1304.6,472.5 L1306.5,472.5 L1308.3,472.5 L1310.2,472.5 L1312.0,472.5 L1313.9,472.5 L1315.7,472.5 L1317.6,472.5 L1319.4,472.5 L1321.3,472.5 L1323.1,472.5 L1325.0,472.5 L1326.8,472.5 L1328.7,472.5 L1330.5,472.5"/><path d="M593.6,588.8 L595.4,585.3 L597.3,582.0 L599.1,578.9 L601.0,575.8 L602.8,572.9 L604.7,570.1 L606.5,567.4 L608.4,564.7 L610.2,562.2 L612.1,559.8 L613.9,557.4 L615.8,555.2 L617.6,553.0 L619.5,550.9 L621.3,548.9 L623.1,546.9 L625.0,545.0 L626.8,543.1 L628.7,541.4 L630.5,539.7 L632.4,538.0 L634.2,536.4 L636.1,534.8 L637.9,533.3 L639.8,531.9 L641.6,530.4 L643.5,529.1 L645.3,527.8 L647.2,526.5 L649.0,525.2 L650.9,524.0 L652.7,522.8 L654.5,521.7 L656.4,520.6 L658.2,519.5 L660.1,518.5 L661.9,517.5 L663.8,516.5 L665.6,515.5 L667.5,514.6 L669.3,513.7 L671.2,512.8 L673.0,512.0 L674.9,511.2 L676.7,510.3 L678.6,509.6 L680.4,508.8 L682.2,508.1 L684.1,507.3 L685.9,506.6 L687.8,506.0 L689.6,505.3 L691.5,504.6 L693.3,504.0 L695.2,503.4 L697.0,502.8 L698.9,502.2 L700.7,501.6 L702.6,501.1 L704.4,500.5 L706.3,500.0 L708.1,499.5 L710.0,499.0 L711.8,498.5 L713.6,498.0 L715.5,497.5 L717.3,497.1 L719.2,496.6 L721.0,496.2 L722.9,495.8 L724.7,495.4 L726.6,494.9 L728.4,494.6 L730.3,494.2 L732.1,493.8 L734.0,493.4 L735.8,493.0 L737.7,492.7 L739.5,492.3 L741.3,492.0 L743.2,491.7 L745.0,491.4 L746.9,491.0 L748.7,490.7 L750.6,490.4 L752.4,490.1 L754.3,489.8 L756.1,489.5 L758.0,489.3 L759.8,489.0 L761.7,488.7 L763.5,488.5 L765.4,488.2 L767.2,488.0 L769.1,487.7 L770.9,487.5 L772.7,487.2 L774.6,487.0 L776.4,486.8 L778.3,486.6 L780.1,486.3 L782.0,486.1 L783.8,485.9 L785.7,485.7 L787.5,485.5 L789.4,485.3 L791.2,485.1 L793.1,484.9 L794.9,484.7 L796.8,484.6 L798.6,484.4 L800.4,484.2 L802.3,484.0 L804.1,483.9 L806.0,483.7 L807.8,483.5 L809.7,483.4 L811.5,483.2 L813.4,483.1 L815.2,482.9 L817.1,482.8 L818.9,482.6 L820.8,482.5 L822.6,482.3 L824.5,482.2 L826.3,482.1 L828.2,481.9 L830.0,481.8 L831.8,481.7 L833.7,481.5 L835.5,481.4 L837.4,481.3 L839.2,481.2 L841.1,481.0 L842.9,480.9 L844.8,480.8 L846.6,480.7 L848.5,480.6 L850.3,480.5 L852.2,480.4 L854.0,480.3 L855.9,480.2 L857.7,480.1 L859.5,480.0 L861.4,479.9 L863.2,479.8 L865.1,479.7 L866.9,479.6 L868.8,479.5 L870.6,479.4 L872.5,479.3 L874.3,479.2 L876.2,479.1 L878.0,479.0 L879.9,479.0 L881.7,478.9 L883.6,478.8 L885.4,478.7 L887.3,478.6 L889.1,478.6 L890.9,478.5 L892.8,478.4 L894.6,478.3 L896.5,478.3 L898.3,478.2 L900.2,478.1 L902.0,478.0 L903.9,478.0 L905.7,477.9 L907.6,477.8 L909.4,477.8 L911.3,477.7 L913.1,477.6 L915.0,477.6 L916.8,477.5 L918.6,477.5 L920.5,477.4 L922.3,477.3 L924.2,477.3 L926.0,477.2 L927.9,477.2 L929.7,477.1 L931.6,477.1 L933.4,477.0 L935.3,476.9 L937.1,476.9 L939.0,476.8 L940.8,476.8 L942.7,476.7 L944.5,476.7 L946.4,476.6 L948.2,476.6 L950.0,476.5 L951.9,476.5 L953.7,476.4 L955.6,476.4 L957.4,476.4 L959.3,476.3 L961.1,476.3 L963.0,476.2 L964.8,476.2 L966.7,476.1 L968.5,476.1 L970.4,476.1 L972.2,476.0 L974.1,476.0 L975.9,475.9 L977.7,475.9 L979.6,475.9 L981.4,475.8 L983.3,475.8 L985.1,475.7 L987.0,475.7 L988.8,475.7 L990.7,475.6 L992.5,475.6 L994.4,475.6 L996.2,475.5 L998.1,475.5 L999.9,475.5 L1001.8,475.4 L1003.6,475.4 L1005.4,475.4 L1007.3,475.3 L1009.1,475.3 L1011.0,475.3 L1012.8,475.2 L1014.7,475.2 L1016.5,475.2 L1018.4,475.1 L1020.2,475.1 L1022.1,475.1 L1023.9,475.1 L1025.8,475.0 L1027.6,475.0 L1029.5,475.0 L1031.3,474.9 L1033.2,474.9 L1035.0,474.9 L1036.8,474.9 L1038.7,474.8 L1040.5,474.8 L1042.4,474.8 L1044.2,474.8 L1046.1,474.7 L1047.9,474.7 L1049.8,474.7 L1051.6,474.7 L1053.5,474.6 L1055.3,474.6 L1057.2,474.6 L1059.0,474.6 L1060.9,474.5 L1062.7,474.5 L1064.5,474.5 L1066.4,474.5 L1068.2,474.5 L1070.1,474.4 L1071.9,474.4 L1073.8,474.4 L1075.6,474.4 L1077.5,474.3 L1079.3,474.3 L1081.2,474.3 L1083.0,474.3 L1084.9,474.3 L1086.7,474.2 L1088.6,474.2 L1090.4,474.2 L1092.3,474.2 L1094.1,474.2 L1095.9,474.2 L1097.8,474.1 L1099.6,474.1 L1101.5,474.1 L1103.3,474.1 L1105.2,474.1 L1107.0,474.0 L1108.9,474.0 L1110.7,474.0 L1112.6,474.0 L1114.4,474.0 L1116.3,474.0 L1118.1,473.9 L1120.0,473.9 L1121.8,473.9 L1123.6,473.9 L1125.5,473.9 L1127.3,473.9 L1129.2,473.8 L1131.0,473.8 L1132.9,473.8 L1134.7,473.8 L1136.6,473.8 L1138.4,473.8 L1140.3,473.8 L1142.1,473.7 L1144.0,473.7 L1145.8,473.7 L1147.7,473.7 L1149.5,473.7 L1151.4,473.7 L1153.2,473.7 L1155.0,473.6 L1156.9,473.6 L1158.7,473.6 L1160.6,473.6 L1162.4,473.6 L1164.3,473.6 L1166.1,473.6 L1168.0,473.6 L1169.8,473.5 L1171.7,473.5 L1173.5,473.5 L1175.4,473.5 L1177.2,473.5 L1179.1,473.5 L1180.9,473.5 L1182.7,473.5 L1184.6,473.5 L1186.4,473.4 L1188.3,473.4 L1190.1,473.4 L1192.0,473.4 L1193.8,473.4 L1195.7,473.4 L1197.5,473.4 L1199.4,473.4 L1201.2,473.4 L1203.1,473.3 L1204.9,473.3 L1206.8,473.3 L1208.6,473.3 L1210.5,473.3 L1212.3,473.3 L1214.1,473.3 L1216.0,473.3 L1217.8,473.3 L1219.7,473.3 L1221.5,473.2 L1223.4,473.2 L1225.2,473.2 L1227.1,473.2 L1228.9,473.2 L1230.8,473.2 L1232.6,473.2 L1234.5,473.2 L1236.3,473.2 L1238.2,473.2 L1240.0,473.2 L1241.8,473.1 L1243.7,473.1 L1245.5,473.1 L1247.4,473.1 L1249.2,473.1 L1251.1,473.1 L1252.9,473.1 L1254.8,473.1 L1256.6,473.1 L1258.5,473.1 L1260.3,473.1 L1262.2,473.1 L1264.0,473.0 L1265.9,473.0 L1267.7,473.0 L1269.6,473.0 L1271.4,473.0 L1273.2,473.0 L1275.1,473.0 L1276.9,473.0 L1278.8,473.0 L1280.6,473.0 L1282.5,473.0 L1284.3,473.0 L1286.2,473.0 L1288.0,473.0 L1289.9,472.9 L1291.7,472.9 L1293.6,472.9 L1295.4,472.9 L1297.3,472.9 L1299.1,472.9 L1300.9,472.9 L1302.8,472.9 L1304.6,472.9 L1306.5,472.9 L1308.3,472.9 L1310.2,472.9 L1312.0,472.9 L1313.9,472.9 L1315.7,472.9 L1317.6,472.9 L1319.4,472.8 L1321.3,472.8 L1323.1,472.8 L1325.0,472.8 L1326.8,472.8 L1328.7,472.8 L1330.5,472.8"/><path d="M597.3,606.2 L599.1,602.4 L601.0,598.7 L602.8,595.1 L604.7,591.6 L606.5,588.3 L608.4,585.1 L610.2,582.1 L612.1,579.1 L613.9,576.2 L615.8,573.5 L617.6,570.8 L619.5,568.2 L621.3,565.7 L623.1,563.3 L625.0,561.0 L626.8,558.8 L628.7,556.6 L630.5,554.5 L632.4,552.5 L634.2,550.5 L636.1,548.6 L637.9,546.8 L639.8,545.0 L641.6,543.3 L643.5,541.6 L645.3,540.0 L647.2,538.4 L649.0,536.9 L650.9,535.5 L652.7,534.0 L654.5,532.6 L656.4,531.3 L658.2,530.0 L660.1,528.7 L661.9,527.5 L663.8,526.3 L665.6,525.1 L667.5,524.0 L669.3,522.9 L671.2,521.8 L673.0,520.8 L674.9,519.8 L676.7,518.8 L678.6,517.8 L680.4,516.9 L682.2,516.0 L684.1,515.1 L685.9,514.3 L687.8,513.4 L689.6,512.6 L691.5,511.8 L693.3,511.1 L695.2,510.3 L697.0,509.6 L698.9,508.9 L700.7,508.2 L702.6,507.5 L704.4,506.8 L706.3,506.2 L708.1,505.5 L710.0,504.9 L711.8,504.3 L713.6,503.7 L715.5,503.2 L717.3,502.6 L719.2,502.1 L721.0,501.5 L722.9,501.0 L724.7,500.5 L726.6,500.0 L728.4,499.5 L730.3,499.1 L732.1,498.6 L734.0,498.1 L735.8,497.7 L737.7,497.3 L739.5,496.8 L741.3,496.4 L743.2,496.0 L745.0,495.6 L746.9,495.2 L748.7,494.9 L750.6,494.5 L752.4,494.1 L754.3,493.8 L756.1,493.4 L758.0,493.1 L759.8,492.8 L761.7,492.4 L763.5,492.1 L765.4,491.8 L767.2,491.5 L769.1,491.2 L770.9,490.9 L772.7,490.6 L774.6,490.3 L776.4,490.1 L778.3,489.8 L780.1,489.5 L782.0,489.3 L783.8,489.0 L785.7,488.8 L787.5,488.5 L789.4,488.3 L791.2,488.0 L793.1,487.8 L794.9,487.6 L796.8,487.3 L798.6,487.1 L800.4,486.9 L802.3,486.7 L804.1,486.5 L806.0,486.3 L807.8,486.1 L809.7,485.9 L811.5,485.7 L813.4,485.5 L815.2,485.3 L817.1,485.2 L818.9,485.0 L820.8,484.8 L822.6,484.6 L824.5,484.5 L826.3,484.3 L828.2,484.1 L830.0,484.0 L831.8,483.8 L833.7,483.7 L835.5,483.5 L837.4,483.4 L839.2,483.2 L841.1,483.1 L842.9,482.9 L844.8,482.8 L846.6,482.6 L848.5,482.5 L850.3,482.4 L852.2,482.2 L854.0,482.1 L855.9,482.0 L857.7,481.9 L859.5,481.7 L861.4,481.6 L863.2,481.5 L865.1,481.4 L866.9,481.3 L868.8,481.2 L870.6,481.0 L872.5,480.9 L874.3,480.8 L876.2,480.7 L878.0,480.6 L879.9,480.5 L881.7,480.4 L883.6,480.3 L885.4,480.2 L887.3,480.1 L889.1,480.0 L890.9,479.9 L892.8,479.8 L894.6,479.8 L896.5,479.7 L898.3,479.6 L900.2,479.5 L902.0,479.4 L903.9,479.3 L905.7,479.2 L907.6,479.2 L909.4,479.1 L911.3,479.0 L913.1,478.9 L915.0,478.8 L916.8,478.8 L918.6,478.7 L920.5,478.6 L922.3,478.5 L924.2,478.5 L926.0,478.4 L927.9,478.3 L929.7,478.3 L931.6,478.2 L933.4,478.1 L935.3,478.1 L937.1,478.0 L939.0,477.9 L940.8,477.9 L942.7,477.8 L944.5,477.7 L946.4,477.7 L948.2,477.6 L950.0,477.6 L951.9,477.5 L953.7,477.5 L955.6,477.4 L957.4,477.3 L959.3,477.3 L961.1,477.2 L963.0,477.2 L964.8,477.1 L966.7,477.1 L968.5,477.0 L970.4,477.0 L972.2,476.9 L974.1,476.9 L975.9,476.8 L977.7,476.8 L979.6,476.7 L981.4,476.7 L983.3,476.6 L985.1,476.6 L987.0,476.5 L988.8,476.5 L990.7,476.5 L992.5,476.4 L994.4,476.4 L996.2,476.3 L998.1,476.3 L999.9,476.2 L1001.8,476.2 L1003.6,476.2 L1005.4,476.1 L1007.3,476.1 L1009.1,476.0 L1011.0,476.0 L1012.8,476.0 L1014.7,475.9 L1016.5,475.9 L1018.4,475.9 L1020.2,475.8 L1022.1,475.8 L1023.9,475.8 L1025.8,475.7 L1027.6,475.7 L1029.5,475.6 L1031.3,475.6 L1033.2,475.6 L1035.0,475.5 L1036.8,475.5 L1038.7,475.5 L1040.5,475.5 L1042.4,475.4 L1044.2,475.4 L1046.1,475.4 L1047.9,475.3 L1049.8,475.3 L1051.6,475.3 L1053.5,475.2 L1055.3,475.2 L1057.2,475.2 L1059.0,475.2 L1060.9,475.1 L1062.7,475.1 L1064.5,475.1 L1066.4,475.0 L1068.2,475.0 L1070.1,475.0 L1071.9,475.0 L1073.8,474.9 L1075.6,474.9 L1077.5,474.9 L1079.3,474.9 L1081.2,474.8 L1083.0,474.8 L1084.9,474.8 L1086.7,474.8 L1088.6,474.7 L1090.4,474.7 L1092.3,474.7 L1094.1,474.7 L1095.9,474.7 L1097.8,474.6 L1099.6,474.6 L1101.5,474.6 L1103.3,474.6 L1105.2,474.5 L1107.0,474.5 L1108.9,474.5 L1110.7,474.5 L1112.6,474.5 L1114.4,474.4 L1116.3,474.4 L1118.1,474.4 L1120.0,474.4 L1121.8,474.4 L1123.6,474.3 L1125.5,474.3 L1127.3,474.3 L1129.2,474.3 L1131.0,474.3 L1132.9,474.2 L1134.7,474.2 L1136.6,474.2 L1138.4,474.2 L1140.3,474.2 L1142.1,474.2 L1144.0,474.1 L1145.8,474.1 L1147.7,474.1 L1149.5,474.1 L1151.4,474.1 L1153.2,474.1 L1155.0,474.0 L1156.9,474.0 L1158.7,474.0 L1160.6,474.0 L1162.4,474.0 L1164.3,474.0 L1166.1,473.9 L1168.0,473.9 L1169.8,473.9 L1171.7,473.9 L1173.5,473.9 L1175.4,473.9 L1177.2,473.9 L1179.1,473.8 L1180.9,473.8 L1182.7,473.8 L1184.6,473.8 L1186.4,473.8 L1188.3,473.8 L1190.1,473.8 L1192.0,473.7 L1193.8,473.7 L1195.7,473.7 L1197.5,473.7 L1199.4,473.7 L1201.2,473.7 L1203.1,473.7 L1204.9,473.7 L1206.8,473.6 L1208.6,473.6 L1210.5,473.6 L1212.3,473.6 L1214.1,473.6 L1216.0,473.6 L1217.8,473.6 L1219.7,473.6 L1221.5,473.5 L1223.4,473.5 L1225.2,473.5 L1227.1,473.5 L1228.9,473.5 L1230.8,473.5 L1232.6,473.5 L1234.5,473.5 L1236.3,473.5 L1238.2,473.4 L1240.0,473.4 L1241.8,473.4 L1243.7,473.4 L1245.5,473.4 L1247.4,473.4 L1249.2,473.4 L1251.1,473.4 L1252.9,473.4 L1254.8,473.4 L1256.6,473.3 L1258.5,473.3 L1260.3,473.3 L1262.2,473.3 L1264.0,473.3 L1265.9,473.3 L1267.7,473.3 L1269.6,473.3 L1271.4,473.3 L1273.2,473.3 L1275.1,473.3 L1276.9,473.2 L1278.8,473.2 L1280.6,473.2 L1282.5,473.2 L1284.3,473.2 L1286.2,473.2 L1288.0,473.2 L1289.9,473.2 L1291.7,473.2 L1293.6,473.2 L1295.4,473.2 L1297.3,473.2 L1299.1,473.1 L1300.9,473.1 L1302.8,473.1 L1304.6,473.1 L1306.5,473.1 L1308.3,473.1 L1310.2,473.1 L1312.0,473.1 L1313.9,473.1 L1315.7,473.1 L1317.6,473.1 L1319.4,473.1 L1321.3,473.1 L1323.1,473.0 L1325.0,473.0 L1326.8,473.0 L1328.7,473.0 L1330.5,473.0"/><path d="M610.2,607.3 L612.1,603.7 L613.9,600.2 L615.8,596.8 L617.6,593.5 L619.5,590.3 L621.3,587.3 L623.1,584.3 L625.0,581.5 L626.8,578.7 L628.7,576.1 L630.5,573.5 L632.4,571.0 L634.2,568.6 L636.1,566.3 L637.9,564.0 L639.8,561.8 L641.6,559.7 L643.5,557.6 L645.3,555.6 L647.2,553.7 L649.0,551.8 L650.9,550.0 L652.7,548.3 L654.5,546.6 L656.4,544.9 L658.2,543.3 L660.1,541.7 L661.9,540.2 L663.8,538.8 L665.6,537.3 L667.5,535.9 L669.3,534.6 L671.2,533.3 L673.0,532.0 L674.9,530.8 L676.7,529.6 L678.6,528.4 L680.4,527.2 L682.2,526.1 L684.1,525.0 L685.9,524.0 L687.8,523.0 L689.6,522.0 L691.5,521.0 L693.3,520.0 L695.2,519.1 L697.0,518.2 L698.9,517.3 L700.7,516.5 L702.6,515.6 L704.4,514.8 L706.3,514.0 L708.1,513.3 L710.0,512.5 L711.8,511.8 L713.6,511.1 L715.5,510.3 L717.3,509.7 L719.2,509.0 L721.0,508.3 L722.9,507.7 L724.7,507.1 L726.6,506.5 L728.4,505.9 L730.3,505.3 L732.1,504.7 L734.0,504.2 L735.8,503.6 L737.7,503.1 L739.5,502.6 L741.3,502.1 L743.2,501.6 L745.0,501.1 L746.9,500.6 L748.7,500.1 L750.6,499.7 L752.4,499.2 L754.3,498.8 L756.1,498.4 L758.0,498.0 L759.8,497.5 L761.7,497.1 L763.5,496.8 L765.4,496.4 L767.2,496.0 L769.1,495.6 L770.9,495.3 L772.7,494.9 L774.6,494.6 L776.4,494.2 L778.3,493.9 L780.1,493.6 L782.0,493.2 L783.8,492.9 L785.7,492.6 L787.5,492.3 L789.4,492.0 L791.2,491.7 L793.1,491.4 L794.9,491.2 L796.8,490.9 L798.6,490.6 L800.4,490.4 L802.3,490.1 L804.1,489.9 L806.0,489.6 L807.8,489.4 L809.7,489.1 L811.5,488.9 L813.4,488.6 L815.2,488.4 L817.1,488.2 L818.9,488.0 L820.8,487.8 L822.6,487.6 L824.5,487.3 L826.3,487.1 L828.2,486.9 L830.0,486.7 L831.8,486.5 L833.7,486.4 L835.5,486.2 L837.4,486.0 L839.2,485.8 L841.1,485.6 L842.9,485.5 L844.8,485.3 L846.6,485.1 L848.5,484.9 L850.3,484.8 L852.2,484.6 L854.0,484.5 L855.9,484.3 L857.7,484.2 L859.5,484.0 L861.4,483.9 L863.2,483.7 L865.1,483.6 L866.9,483.4 L868.8,483.3 L870.6,483.2 L872.5,483.0 L874.3,482.9 L876.2,482.8 L878.0,482.6 L879.9,482.5 L881.7,482.4 L883.6,482.3 L885.4,482.1 L887.3,482.0 L889.1,481.9 L890.9,481.8 L892.8,481.7 L894.6,481.6 L896.5,481.5 L898.3,481.3 L900.2,481.2 L902.0,481.1 L903.9,481.0 L905.7,480.9 L907.6,480.8 L909.4,480.7 L911.3,480.6 L913.1,480.5 L915.0,480.4 L916.8,480.3 L918.6,480.3 L920.5,480.2 L922.3,480.1 L924.2,480.0 L926.0,479.9 L927.9,479.8 L929.7,479.7 L931.6,479.6 L933.4,479.6 L935.3,479.5 L937.1,479.4 L939.0,479.3 L940.8,479.3 L942.7,479.2 L944.5,479.1 L946.4,479.0 L948.2,479.0 L950.0,478.9 L951.9,478.8 L953.7,478.7 L955.6,478.7 L957.4,478.6 L959.3,478.5 L961.1,478.5 L963.0,478.4 L964.8,478.3 L966.7,478.3 L968.5,478.2 L970.4,478.1 L972.2,478.1 L974.1,478.0 L975.9,478.0 L977.7,477.9 L979.6,477.8 L981.4,477.8 L983.3,477.7 L985.1,477.7 L987.0,477.6 L988.8,477.6 L990.7,477.5 L992.5,477.5 L994.4,477.4 L996.2,477.4 L998.1,477.3 L999.9,477.2 L1001.8,477.2 L1003.6,477.2 L1005.4,477.1 L1007.3,477.1 L1009.1,477.0 L1011.0,477.0 L1012.8,476.9 L1014.7,476.9 L1016.5,476.8 L1018.4,476.8 L1020.2,476.7 L1022.1,476.7 L1023.9,476.6 L1025.8,476.6 L1027.6,476.6 L1029.5,476.5 L1031.3,476.5 L1033.2,476.4 L1035.0,476.4 L1036.8,476.4 L1038.7,476.3 L1040.5,476.3 L1042.4,476.2 L1044.2,476.2 L1046.1,476.2 L1047.9,476.1 L1049.8,476.1 L1051.6,476.1 L1053.5,476.0 L1055.3,476.0 L1057.2,475.9 L1059.0,475.9 L1060.9,475.9 L1062.7,475.8 L1064.5,475.8 L1066.4,475.8 L1068.2,475.7 L1070.1,475.7 L1071.9,475.7 L1073.8,475.6 L1075.6,475.6 L1077.5,475.6 L1079.3,475.6 L1081.2,475.5 L1083.0,475.5 L1084.9,475.5 L1086.7,475.4 L1088.6,475.4 L1090.4,475.4 L1092.3,475.3 L1094.1,475.3 L1095.9,475.3 L1097.8,475.3 L1099.6,475.2 L1101.5,475.2 L1103.3,475.2 L1105.2,475.2 L1107.0,475.1 L1108.9,475.1 L1110.7,475.1 L1112.6,475.1 L1114.4,475.0 L1116.3,475.0 L1118.1,475.0 L1120.0,475.0 L1121.8,474.9 L1123.6,474.9 L1125.5,474.9 L1127.3,474.9 L1129.2,474.8 L1131.0,474.8 L1132.9,474.8 L1134.7,474.8 L1136.6,474.7 L1138.4,474.7 L1140.3,474.7 L1142.1,474.7 L1144.0,474.7 L1145.8,474.6 L1147.7,474.6 L1149.5,474.6 L1151.4,474.6 L1153.2,474.6 L1155.0,474.5 L1156.9,474.5 L1158.7,474.5 L1160.6,474.5 L1162.4,474.5 L1164.3,474.4 L1166.1,474.4 L1168.0,474.4 L1169.8,474.4 L1171.7,474.4 L1173.5,474.4 L1175.4,474.3 L1177.2,474.3 L1179.1,474.3 L1180.9,474.3 L1182.7,474.3 L1184.6,474.2 L1186.4,474.2 L1188.3,474.2 L1190.1,474.2 L1192.0,474.2 L1193.8,474.2 L1195.7,474.1 L1197.5,474.1 L1199.4,474.1 L1201.2,474.1 L1203.1,474.1 L1204.9,474.1 L1206.8,474.1 L1208.6,474.0 L1210.5,474.0 L1212.3,474.0 L1214.1,474.0 L1216.0,474.0 L1217.8,474.0 L1219.7,474.0 L1221.5,473.9 L1223.4,473.9 L1225.2,473.9 L1227.1,473.9 L1228.9,473.9 L1230.8,473.9 L1232.6,473.9 L1234.5,473.8 L1236.3,473.8 L1238.2,473.8 L1240.0,473.8 L1241.8,473.8 L1243.7,473.8 L1245.5,473.8 L1247.4,473.8 L1249.2,473.7 L1251.1,473.7 L1252.9,473.7 L1254.8,473.7 L1256.6,473.7 L1258.5,473.7 L1260.3,473.7 L1262.2,473.7 L1264.0,473.6 L1265.9,473.6 L1267.7,473.6 L1269.6,473.6 L1271.4,473.6 L1273.2,473.6 L1275.1,473.6 L1276.9,473.6 L1278.8,473.6 L1280.6,473.5 L1282.5,473.5 L1284.3,473.5 L1286.2,473.5 L1288.0,473.5 L1289.9,473.5 L1291.7,473.5 L1293.6,473.5 L1295.4,473.5 L1297.3,473.4 L1299.1,473.4 L1300.9,473.4 L1302.8,473.4 L1304.6,473.4 L1306.5,473.4 L1308.3,473.4 L1310.2,473.4 L1312.0,473.4 L1313.9,473.4 L1315.7,473.4 L1317.6,473.3 L1319.4,473.3 L1321.3,473.3 L1323.1,473.3 L1325.0,473.3 L1326.8,473.3 L1328.7,473.3 L1330.5,473.3"/><path d="M636.1,609.6 L637.9,606.3 L639.8,603.1 L641.6,600.0 L643.5,597.0 L645.3,594.1 L647.2,591.3 L649.0,588.6 L650.9,585.9 L652.7,583.3 L654.5,580.9 L656.4,578.4 L658.2,576.1 L660.1,573.8 L661.9,571.6 L663.8,569.5 L665.6,567.4 L667.5,565.4 L669.3,563.4 L671.2,561.5 L673.0,559.6 L674.9,557.8 L676.7,556.0 L678.6,554.3 L680.4,552.7 L682.2,551.0 L684.1,549.5 L685.9,547.9 L687.8,546.4 L689.6,545.0 L691.5,543.5 L693.3,542.2 L695.2,540.8 L697.0,539.5 L698.9,538.2 L700.7,537.0 L702.6,535.7 L704.4,534.6 L706.3,533.4 L708.1,532.3 L710.0,531.2 L711.8,530.1 L713.6,529.0 L715.5,528.0 L717.3,527.0 L719.2,526.0 L721.0,525.1 L722.9,524.1 L724.7,523.2 L726.6,522.4 L728.4,521.5 L730.3,520.6 L732.1,519.8 L734.0,519.0 L735.8,518.2 L737.7,517.4 L739.5,516.7 L741.3,515.9 L743.2,515.2 L745.0,514.5 L746.9,513.8 L748.7,513.1 L750.6,512.5 L752.4,511.8 L754.3,511.2 L756.1,510.5 L758.0,509.9 L759.8,509.3 L761.7,508.8 L763.5,508.2 L765.4,507.6 L767.2,507.1 L769.1,506.5 L770.9,506.0 L772.7,505.5 L774.6,505.0 L776.4,504.5 L778.3,504.0 L780.1,503.5 L782.0,503.1 L783.8,502.6 L785.7,502.2 L787.5,501.7 L789.4,501.3 L791.2,500.9 L793.1,500.4 L794.9,500.0 L796.8,499.6 L798.6,499.2 L800.4,498.9 L802.3,498.5 L804.1,498.1 L806.0,497.7 L807.8,497.4 L809.7,497.0 L811.5,496.7 L813.4,496.4 L815.2,496.0 L817.1,495.7 L818.9,495.4 L820.8,495.1 L822.6,494.8 L824.5,494.4 L826.3,494.1 L828.2,493.9 L830.0,493.6 L831.8,493.3 L833.7,493.0 L835.5,492.7 L837.4,492.5 L839.2,492.2 L841.1,491.9 L842.9,491.7 L844.8,491.4 L846.6,491.2 L848.5,490.9 L850.3,490.7 L852.2,490.5 L854.0,490.2 L855.9,490.0 L857.7,489.8 L859.5,489.6 L861.4,489.4 L863.2,489.1 L865.1,488.9 L866.9,488.7 L868.8,488.5 L870.6,488.3 L872.5,488.1 L874.3,487.9 L876.2,487.8 L878.0,487.6 L879.9,487.4 L881.7,487.2 L883.6,487.0 L885.4,486.9 L887.3,486.7 L889.1,486.5 L890.9,486.3 L892.8,486.2 L894.6,486.0 L896.5,485.9 L898.3,485.7 L900.2,485.5 L902.0,485.4 L903.9,485.2 L905.7,485.1 L907.6,484.9 L909.4,484.8 L911.3,484.7 L913.1,484.5 L915.0,484.4 L916.8,484.2 L918.6,484.1 L920.5,484.0 L922.3,483.8 L924.2,483.7 L926.0,483.6 L927.9,483.5 L929.7,483.3 L931.6,483.2 L933.4,483.1 L935.3,483.0 L937.1,482.9 L939.0,482.8 L940.8,482.6 L942.7,482.5 L944.5,482.4 L946.4,482.3 L948.2,482.2 L950.0,482.1 L951.9,482.0 L953.7,481.9 L955.6,481.8 L957.4,481.7 L959.3,481.6 L961.1,481.5 L963.0,481.4 L964.8,481.3 L966.7,481.2 L968.5,481.1 L970.4,481.0 L972.2,480.9 L974.1,480.9 L975.9,480.8 L977.7,480.7 L979.6,480.6 L981.4,480.5 L983.3,480.4 L985.1,480.3 L987.0,480.3 L988.8,480.2 L990.7,480.1 L992.5,480.0 L994.4,479.9 L996.2,479.9 L998.1,479.8 L999.9,479.7 L1001.8,479.6 L1003.6,479.6 L1005.4,479.5 L1007.3,479.4 L1009.1,479.4 L1011.0,479.3 L1012.8,479.2 L1014.7,479.2 L1016.5,479.1 L1018.4,479.0 L1020.2,479.0 L1022.1,478.9 L1023.9,478.8 L1025.8,478.8 L1027.6,478.7 L1029.5,478.7 L1031.3,478.6 L1033.2,478.5 L1035.0,478.5 L1036.8,478.4 L1038.7,478.4 L1040.5,478.3 L1042.4,478.2 L1044.2,478.2 L1046.1,478.1 L1047.9,478.1 L1049.8,478.0 L1051.6,478.0 L1053.5,477.9 L1055.3,477.9 L1057.2,477.8 L1059.0,477.8 L1060.9,477.7 L1062.7,477.7 L1064.5,477.6 L1066.4,477.6 L1068.2,477.5 L1070.1,477.5 L1071.9,477.4 L1073.8,477.4 L1075.6,477.3 L1077.5,477.3 L1079.3,477.2 L1081.2,477.2 L1083.0,477.2 L1084.9,477.1 L1086.7,477.1 L1088.6,477.0 L1090.4,477.0 L1092.3,476.9 L1094.1,476.9 L1095.9,476.9 L1097.8,476.8 L1099.6,476.8 L1101.5,476.7 L1103.3,476.7 L1105.2,476.7 L1107.0,476.6 L1108.9,476.6 L1110.7,476.6 L1112.6,476.5 L1114.4,476.5 L1116.3,476.4 L1118.1,476.4 L1120.0,476.4 L1121.8,476.3 L1123.6,476.3 L1125.5,476.3 L1127.3,476.2 L1129.2,476.2 L1131.0,476.2 L1132.9,476.1 L1134.7,476.1 L1136.6,476.1 L1138.4,476.0 L1140.3,476.0 L1142.1,476.0 L1144.0,475.9 L1145.8,475.9 L1147.7,475.9 L1149.5,475.9 L1151.4,475.8 L1153.2,475.8 L1155.0,475.8 L1156.9,475.7 L1158.7,475.7 L1160.6,475.7 L1162.4,475.7 L1164.3,475.6 L1166.1,475.6 L1168.0,475.6 L1169.8,475.5 L1171.7,475.5 L1173.5,475.5 L1175.4,475.5 L1177.2,475.4 L1179.1,475.4 L1180.9,475.4 L1182.7,475.4 L1184.6,475.3 L1186.4,475.3 L1188.3,475.3 L1190.1,475.3 L1192.0,475.2 L1193.8,475.2 L1195.7,475.2 L1197.5,475.2 L1199.4,475.1 L1201.2,475.1 L1203.1,475.1 L1204.9,475.1 L1206.8,475.1 L1208.6,475.0 L1210.5,475.0 L1212.3,475.0 L1214.1,475.0 L1216.0,475.0 L1217.8,474.9 L1219.7,474.9 L1221.5,474.9 L1223.4,474.9 L1225.2,474.8 L1227.1,474.8 L1228.9,474.8 L1230.8,474.8 L1232.6,474.8 L1234.5,474.7 L1236.3,474.7 L1238.2,474.7 L1240.0,474.7 L1241.8,474.7 L1243.7,474.7 L1245.5,474.6 L1247.4,474.6 L1249.2,474.6 L1251.1,474.6 L1252.9,474.6 L1254.8,474.5 L1256.6,474.5 L1258.5,474.5 L1260.3,474.5 L1262.2,474.5 L1264.0,474.5 L1265.9,474.4 L1267.7,474.4 L1269.6,474.4 L1271.4,474.4 L1273.2,474.4 L1275.1,474.4 L1276.9,474.3 L1278.8,474.3 L1280.6,474.3 L1282.5,474.3 L1284.3,474.3 L1286.2,474.3 L1288.0,474.3 L1289.9,474.2 L1291.7,474.2 L1293.6,474.2 L1295.4,474.2 L1297.3,474.2 L1299.1,474.2 L1300.9,474.1 L1302.8,474.1 L1304.6,474.1 L1306.5,474.1 L1308.3,474.1 L1310.2,474.1 L1312.0,474.1 L1313.9,474.1 L1315.7,474.0 L1317.6,474.0 L1319.4,474.0 L1321.3,474.0 L1323.1,474.0 L1325.0,474.0 L1326.8,474.0 L1328.7,473.9 L1330.5,473.9"/></g>
</g>
<g stroke="#666666" stroke-width="2" fill="none"><rect x="593.6" y="77.5" width="740.6" height="517.6"/><line x1="593.6" y1="595.1" x2="593.6" y2="603.3"/><line x1="593.6" y1="77.5" x2="593.6" y2="69.3"/><line x1="686.2" y1="595.1" x2="686.2" y2="603.3"/><line x1="686.2" y1="77.5" x2="686.2" y2="69.3"/><line x1="778.8" y1="595.1" x2="778.8" y2="603.3"/><line x1="778.8" y1="77.5" x2="778.8" y2="69.3"/><line x1="871.3" y1="595.1" x2="871.3" y2="603.3"/><line x1="871.3" y1="77.5" x2="871.3" y2="69.3"/><line x1="963.9" y1="595.1" x2="963.9" y2="603.3"/><line x1="963.9" y1="77.5" x2="963.9" y2="69.3"/><line x1="1056.5" y1="595.1" x2="1056.5" y2="603.3"/><line x1="1056.5" y1="77.5" x2="1056.5" y2="69.3"/><line x1="1149.1" y1="595.1" x2="1149.1" y2="603.3"/><line x1="1149.1" y1="77.5" x2="1149.1" y2="69.3"/><line x1="1241.6" y1="595.1" x2="1241.6" y2="603.3"/><line x1="1241.6" y1="77.5" x2="1241.6" y2="69.3"/><line x1="1334.2" y1="595.1" x2="1334.2" y2="603.3"/><line x1="1334.2" y1="77.5" x2="1334.2" y2="69.3"/><line x1="593.6" y1="595.1" x2="585.4" y2="595.1"/><line x1="1334.2" y1="595.1" x2="1342.4" y2="595.1"/><line x1="593.6" y1="471.9" x2="585.4" y2="471.9"/><line x1="1334.2" y1="471.9" x2="1342.4" y2="471.9"/><line x1="593.6" y1="447.2" x2="585.4" y2="447.2"/><line x1="1334.2" y1="447.2" x2="1342.4" y2="447.2"/><line x1="593.6" y1="348.6" x2="585.4" y2="348.6"/><line x1="1334.2" y1="348.6" x2="1342.4" y2="348.6"/><line x1="593.6" y1="225.4" x2="585.4" y2="225.4"/><line x1="1334.2" y1="225.4" x2="1342.4" y2="225.4"/><line x1="593.6" y1="102.1" x2="585.4" y2="102.1"/><line x1="1334.2" y1="102.1" x2="1342.4" y2="102.1"/></g>
<rect x="930.7" y="266.4" width="5.4" height="180.0" fill="#5B9BD5" stroke="#41719C" stroke-width="0.8"/>
<rect x="984.8" y="231.8" width="5.3" height="214.6" fill="#7030A0" stroke="#3F5F9A" stroke-width="0.8"/>
<rect x="1110.4" y="184.9" width="5.4" height="171.0" fill="#00B0F0" stroke="#2E9BD6" stroke-width="0.8"/>
<rect x="1110.4" y="389.3" width="5.4" height="57.1" fill="#00B0F0" stroke="#2E9BD6" stroke-width="0.8"/>
<text transform="translate(119.84,48.30) scale(0.9559,1)" font-family="'Liberation Sans', sans-serif" font-weight="bold" font-style="normal" font-size="40" fill="#4422FF">-1</text>
<text transform="translate(313.34,37.40) scale(0.9283,1)" font-family="'Liberation Sans', sans-serif" font-weight="bold" font-style="normal" font-size="43.5" fill="#D66D00">Inc</text>
<text transform="translate(31.68,90.30) scale(0.9585,1)" font-family="'Liberation Sans', sans-serif" font-weight="normal" font-style="normal" font-size="27.2" fill="#96640F">InSb</text>
<text transform="translate(305.06,94.60) scale(0.9698,1)" font-family="'Liberation Sans', sans-serif" font-weight="normal" font-style="normal" font-size="27.2" fill="#96640F">InSb</text>
<text transform="translate(191.14,136.80) scale(0.6813,1)" font-family="'Liberation Sans', sans-serif" font-weight="normal" font-style="normal" font-size="32.5" fill="#000">L</text>
<text transform="translate(262.30,147.00) scale(1.0955,1)" font-family="'Liberation Sans', sans-serif" font-weight="normal" font-style="normal" font-size="30" fill="#000">w</text>
<text transform="translate(366.11,157.10) scale(0.8938,1)" font-family="'Liberation Sans', sans-serif" font-weight="normal" font-style="normal" font-size="32.3" fill="#000">h</text>
<text transform="translate(420.27,209.80) scale(0.9250,1)" font-family="'Liberation Sans', sans-serif" font-weight="normal" font-style="normal" font-size="32" fill="#000">b</text>
<text transform="translate(143.50,200.30) scale(0.9331,1)" font-family="'Liberation Sans', sans-serif" font-weight="bold" font-style="normal" font-size="20.3" fill="#fff">SiO2 buffer layer</text>
<text transform="translate(140.71,261.10) scale(0.9854,1)" font-family="'Liberation Sans', sans-serif" font-weight="bold" font-style="normal" font-size="20" fill="#fff">Metallic reflector</text>
<text transform="translate(162.04,336.60) scale(0.9825,1)" font-family="'Liberation Sans', sans-serif" font-weight="normal" font-style="normal" font-size="38.5" fill="#000">State ON</text>
<text transform="translate(158.36,427.00) scale(1.0450,1)" font-family="'Liberation Sans', sans-serif" font-weight="bold" font-style="normal" font-size="38.6" fill="#4422FF">0</text>
<text transform="translate(238.25,430.60) scale(1.0524,1)" font-family="'DejaVu Serif', 'Liberation Serif', serif" font-weight="normal" font-style="italic" font-size="38" fill="#A04A08" stroke="#A04A08" stroke-width="0.7" stroke-linejoin="round">θ</text>
<text transform="translate(297.87,484.60) scale(0.9164,1)" font-family="'Liberation Sans', sans-serif" font-weight="bold" font-style="normal" font-size="44" fill="#D66D00">Inc</text>
<text transform="translate(145.50,532.50) scale(0.9380,1)" font-family="'Liberation Sans', sans-serif" font-weight="bold" font-style="normal" font-size="20.3" fill="#fff">SiO2 buffer layer</text>
<text transform="translate(142.71,590.80) scale(0.9918,1)" font-family="'Liberation Sans', sans-serif" font-weight="bold" font-style="normal" font-size="20" fill="#fff">Metallic reflector</text>
<text transform="translate(166.41,692.00) scale(0.9462,1)" font-family="'Liberation Sans', sans-serif" font-weight="normal" font-style="normal" font-size="38.2" fill="#000">State OFF</text>
<text transform="translate(668.20,148.00) scale(0.9977,1)" font-family="'Liberation Sans', sans-serif" font-weight="normal" font-style="normal" font-size="24" fill="#303030">blue - Real (eps)</text>
<text transform="translate(668.20,179.30) scale(0.9953,1)" font-family="'Liberation Sans', sans-serif" font-weight="normal" font-style="normal" font-size="24" fill="#303030">red - Imag (eps)</text>
<text transform="translate(958.89,203.90) scale(1.0101,1)" font-family="'Liberation Sans', sans-serif" font-weight="normal" font-style="normal" font-size="27" fill="#1a1a1a">275 K</text>
<text transform="translate(998.90,266.80) scale(0.9971,1)" font-family="'Liberation Sans', sans-serif" font-weight="normal" font-style="normal" font-size="27" fill="#1a1a1a">295 K</text>
<text transform="translate(1036.11,330.80) scale(0.9942,1)" font-family="'Liberation Sans', sans-serif" font-weight="normal" font-style="normal" font-size="27" fill="#1a1a1a">305 K</text>
<text transform="translate(1076.71,383.10) scale(0.9870,1)" font-family="'Liberation Sans', sans-serif" font-weight="normal" font-style="normal" font-size="27" fill="#1a1a1a">315 K</text>
<text transform="translate(1138.69,444.30) scale(1.0130,1)" font-family="'Liberation Sans', sans-serif" font-weight="normal" font-style="normal" font-size="27" fill="#1a1a1a">335 K</text>
<text transform="translate(906.06,358.90) scale(0.8385,1)" font-family="'Liberation Sans', sans-serif" font-weight="bold" font-style="normal" font-size="25" fill="#0B72BE">1</text>
<text transform="translate(962.40,310.60) scale(0.8571,1)" font-family="'Liberation Sans', sans-serif" font-weight="bold" font-style="normal" font-size="25" fill="#7030A0">2</text>
<text transform="translate(1088.60,224.00) scale(0.8643,1)" font-family="'Liberation Sans', sans-serif" font-weight="bold" font-style="normal" font-size="25" fill="#00B0F0">3</text>
<text transform="translate(866.71,669.20) scale(0.9898,1)" font-family="'Liberation Sans', sans-serif" font-weight="normal" font-style="normal" font-size="26.5" fill="#303030">Frequency (THz)</text>
<g font-family="'Liberation Sans', sans-serif" font-size="24.2" fill="#303030">
<g text-anchor="middle"><text x="594.5" y="635.6">1</text><text x="687.1" y="635.6">1.5</text><text x="779.6" y="635.6">2</text><text x="872.2" y="635.6">2.5</text><text x="964.8" y="635.6">3</text><text x="1057.4" y="635.6">3.5</text><text x="1150.0" y="635.6">4</text><text x="1242.5" y="635.6">4.5</text><text x="1335.1" y="635.6">5</text></g>
<g text-anchor="end"><text x="578.2" y="603.4">-5</text><text x="578.2" y="480.2">0</text><text x="578.2" y="455.5">1</text><text x="578.2" y="356.9">5</text><text x="578.2" y="233.7">10</text><text x="578.2" y="110.4">15</text></g>
</g>
<text transform="translate(538.90,452.48) rotate(-90) scale(0.9849,1)" font-family="'Liberation Sans', sans-serif" font-size="26.5" fill="#303030">Relative Permittivity</text>
<g><text transform="translate(4.12,690.90) scale(0.6929,1)" font-family="'Liberation Sans', sans-serif" font-weight="normal" font-style="normal" font-size="50.3" fill="#000" stroke="#000" stroke-width="1.3" stroke-linejoin="round">(</text><text transform="translate(20.76,692.30) scale(0.7692,1)" font-family="'Liberation Sans', sans-serif" font-weight="normal" font-style="normal" font-size="48.9" fill="#000" stroke="#000" stroke-width="1.0" stroke-linejoin="round">a</text><text transform="translate(49.00,690.90) scale(0.7214,1)" font-family="'Liberation Sans', sans-serif" font-weight="normal" font-style="normal" font-size="50.3" fill="#000" stroke="#000" stroke-width="1.3" stroke-linejoin="round">)</text></g>
<g><text transform="translate(492.24,690.90) scale(0.7214,1)" font-family="'Liberation Sans', sans-serif" font-weight="normal" font-style="normal" font-size="50.3" fill="#000" stroke="#000" stroke-width="1.3" stroke-linejoin="round">(</text><text transform="translate(509.10,692.30) scale(0.9333,1)" font-family="'Liberation Sans', sans-serif" font-weight="normal" font-style="normal" font-size="51.2" fill="#000" stroke="#000" stroke-width="1.0" stroke-linejoin="round">b</text><text transform="translate(540.00,690.90) scale(0.6857,1)" font-family="'Liberation Sans', sans-serif" font-weight="normal" font-style="normal" font-size="50.3" fill="#000" stroke="#000" stroke-width="1.3" stroke-linejoin="round">)</text></g>
</svg>
</body></html>
